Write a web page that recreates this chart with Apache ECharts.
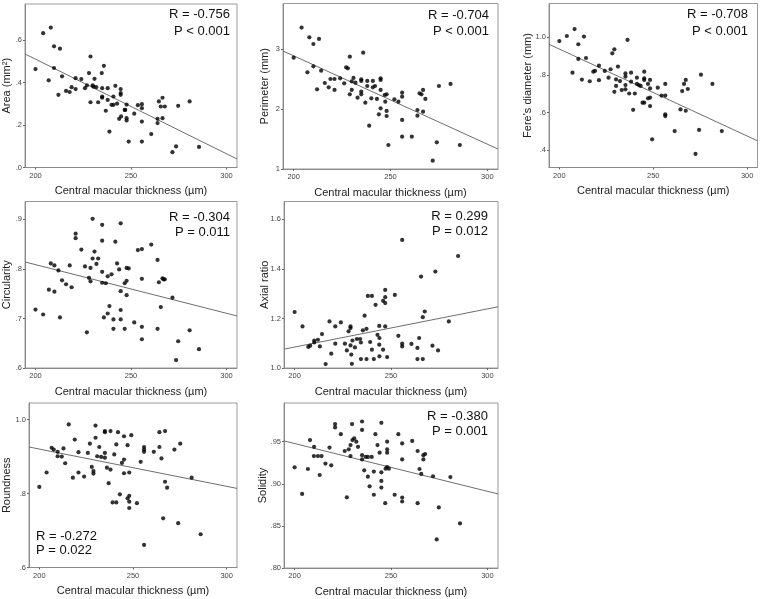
<!DOCTYPE html>
<html><head><meta charset="utf-8">
<script src="https://cdn.jsdelivr.net/npm/echarts@6/dist/echarts.min.js"></script>
<style>html,body{margin:0;padding:0;background:#fff}#c{width:760px;height:599px}</style>
</head><body><div id="c"></div>
<script>
// ---------- data ----------
const xTicks = [200, 250, 300];
const xRange = [194.5, 305.5];
const xTitle = 'Central macular thickness (µm)';

const areaPts = [[204,0.632],[208,0.658],[209.7,0.57],[212.8,0.559],[200,0.463],[209.7,0.468],[206.9,0.41],[212,0.342],[213.9,0.429],[216,0.36],[217.9,0.355],[218.9,0.378],[221,0.42],[221,0.369],[224,0.416],[225.9,0.373],[226.9,0.386],[228,0.444],[228.8,0.522],[228.8,0.307],[229.9,0.386],[230.4,0.38],[230.9,0.417],[231.8,0.378],[232.8,0.307],[234.7,0.444],[234.9,0.373],[234.9,0.334],[234.9,0.328],[235.8,0.478],[236.8,0.267],[237.8,0.373],[237.8,0.318],[238.7,0.169],[239.8,0.295],[240.8,0.334],[240.8,0.295],[241.8,0.384],[242.7,0.3],[243.8,0.229],[244.6,0.369],[244.6,0.35],[244.6,0.342],[244.8,0.24],[246.7,0.271],[247,0.271],[247.7,0.296],[247.7,0.232],[247.7,0.221],[248.8,0.122],[251.7,0.253],[253.6,0.293],[255.7,0.298],[255.7,0.279],[255.7,0.216],[255.7,0.122],[260.6,0.157],[263.9,0.229],[263.9,0.209],[264.6,0.311],[265.6,0.287],[266.5,0.328],[266.5,0.232],[267.7,0.287],[271.7,0.072],[273.6,0.099],[274.7,0.29],[280.7,0.311],[285.6,0.097]];
const areaFit = [[194.5,0.534],[305.5,0.040]];
const areaTicks = [0, 0.2, 0.4, 0.6];

const perimPts = [[204.1,3.356],[208.1,3.194],[210.2,3.083],[213.1,3.167],[200,2.856],[210.2,2.711],[207.1,2.611],[212.1,2.328],[214.2,2.639],[216.1,2.433],[218.1,2.361],[219,2.5],[221.1,2.5],[221.1,2.317],[224,2.511],[226.1,2.428],[227.1,2.694],[228,2.678],[229,2.872],[229,2.244],[230,2.461],[230,2.317],[230.9,2.517],[231.9,2.439],[233,2.189],[234.9,2.494],[234.9,2.467],[234.9,2.289],[234.9,2.244],[235.9,2.939],[237,2.106],[238,2.467],[238,2.383],[239,1.722],[240.1,2.178],[240.9,2.467],[240.9,2.361],[242,2.383],[243,2.167],[244,1.911],[244.9,2.511],[244.9,2.483],[244.9,2.317],[244.9,2.011],[247,2.233],[247.3,2.122],[248,2.244],[248,1.967],[248,1.883],[248.9,1.4],[252,2.161],[254.1,2.122],[256,2.272],[256,2.206],[256,1.817],[256,1.539],[261,1.539],[263.9,1.983],[263.9,1.889],[265,2.261],[266,2.244],[266.8,2.317],[266.8,1.956],[268,2.167],[271.8,1.139],[273.9,1.444],[275,2.383],[281,2.417],[285.8,1.4]];
const perimFit = [[194.5,2.967],[305.5,1.333]];
const perimTicks = [1, 2, 3];

const feretPts = [[204,1.007],[208.1,1.044],[200,0.98],[213.1,1.004],[210.1,0.963],[210.1,0.885],[214.2,0.89],[207,0.812],[212,0.775],[216.2,0.766],[218.1,0.817],[219,0.821],[221.1,0.849],[221.1,0.772],[224.2,0.821],[226.2,0.785],[227.3,0.83],[228.2,0.915],[229.3,0.936],[229.3,0.71],[230.2,0.741],[230.2,0.776],[231.2,0.844],[232.3,0.767],[233.2,0.719],[235.2,0.808],[235.2,0.791],[235.2,0.746],[235.2,0.723],[236.3,0.986],[237.2,0.701],[238.2,0.812],[238.2,0.764],[239.3,0.614],[240.2,0.701],[241.3,0.785],[241.3,0.752],[242.3,0.746],[243.3,0.741],[244.3,0.652],[245.2,0.817],[245.2,0.781],[245.2,0.773],[245.2,0.652],[247.2,0.752],[247.2,0.675],[248.3,0.773],[248.3,0.728],[248.3,0.679],[248.3,0.634],[249.4,0.457],[252.4,0.732],[254.4,0.69],[256.4,0.752],[256.4,0.69],[256.4,0.59],[256.4,0.581],[261.4,0.501],[264.5,0.616],[265.4,0.714],[266.4,0.752],[267.3,0.773],[267.3,0.609],[268.4,0.725],[272.5,0.379],[274.4,0.507],[275.4,0.801],[281.5,0.752],[286.5,0.501]];
const feretFit = [[194.5,0.963],[305.5,0.449]];
const feretTicks = [0.4, 0.6, 0.8, 1.0];

const circPts = [[200,0.718],[204,0.708],[207,0.758],[208,0.811],[209.9,0.807],[209.9,0.754],[212,0.797],[212.8,0.702],[213.9,0.777],[216,0.769],[217.9,0.807],[218.9,0.763],[221,0.871],[221,0.862],[224,0.839],[225.9,0.805],[226.9,0.672],[228,0.782],[228.8,0.802],[228.8,0.775],[229.9,0.901],[229.9,0.821],[230.9,0.835],[231.9,0.81],[232.8,0.821],[234.9,0.889],[234.9,0.857],[234.9,0.794],[234.9,0.772],[235.8,0.702],[236.8,0.771],[237.8,0.785],[237.8,0.71],[238.7,0.725],[239.8,0.789],[240.8,0.698],[240.8,0.679],[241.8,0.855],[242.7,0.811],[243.8,0.799],[244.6,0.892],[244.6,0.755],[244.6,0.717],[244.6,0.698],[246.7,0.771],[246.7,0.679],[247.7,0.802],[247.7,0.776],[247.7,0.747],[248.8,0.801],[251.7,0.692],[253.6,0.838],[255.7,0.84],[255.7,0.78],[255.7,0.683],[255.7,0.658],[260.6,0.849],[263.9,0.818],[263.9,0.679],[264.6,0.773],[265.6,0.723],[266.5,0.781],[267,0.779],[267.7,0.779],[271.7,0.742],[273.6,0.616],[274.7,0.654],[280.7,0.676],[285.6,0.638]];
const circFit = [[194.5,0.814],[305.5,0.705]];
const circTicks = [0.6, 0.7, 0.8, 0.9];

const axialPts = [[200,1.226],[204.1,1.168],[207.1,1.085],[208.1,1.09],[210.2,1.103],[210.2,1.111],[212.1,1.114],[213.1,1.087],[214.2,1.137],[216.1,1.016],[218.1,1.188],[219,1.058],[221.1,1.168],[221.1,1.098],[224,1.184],[226.1,1.098],[227.1,1.071],[228,1.148],[229,1.168],[229,1.161],[229,1.091],[229.4,1.054],[229.7,1.017],[230,1.111],[231.3,1.083],[232.3,1.117],[234,1.117],[234.4,1.036],[234.4,1.103],[235.4,1.152],[236.3,1.211],[237.3,1.158],[237.3,1.036],[238,1.291],[239.2,1.105],[240.1,1.291],[240.1,1.074],[241.1,1.036],[242,1.255],[243,1.134],[243.9,1.17],[244,1.121],[243.9,1.094],[244,1.047],[245.9,1.271],[245.9,1.074],[247,1.315],[247,1.286],[247,1.262],[247,1.168],[248,1.044],[252,1.295],[253.8,1.13],[255.8,1.517],[255.8,1.098],[255.8,1.087],[260.6,1.097],[263.7,1.081],[263.7,1.036],[264.6,1.121],[265.6,1.369],[266.5,1.205],[266.5,1.036],[267.5,1.228],[271.5,1.09],[273,1.389],[274.4,1.071],[280,1.188],[284.8,1.452]];
const axialFit = [[194.5,1.076],[305.5,1.247]];
const axialTicks = [1.0, 1.2, 1.4, 1.6];

const roundPts = [[200,0.818],[203.9,0.857],[206.6,0.924],[207.7,0.919],[209.8,0.913],[209.8,0.901],[212,0.9],[212.9,0.922],[213.8,0.882],[215.7,0.987],[217.9,0.843],[218.9,0.946],[220.9,0.912],[220.9,0.857],[223.9,0.846],[225.9,0.91],[227,0.935],[228,0.872],[228.9,0.861],[228.9,0.854],[230,0.984],[230,0.951],[230.9,0.901],[232,0.926],[233,0.899],[235,0.969],[235,0.966],[235,0.91],[235,0.897],[236.1,0.87],[237,0.828],[238,0.969],[238,0.865],[239.1,0.776],[240,0.906],[241.1,0.933],[241.1,0.776],[242,0.966],[243,0.798],[244.1,0.883],[245.2,0.955],[245.2,0.892],[245.2,0.855],[247.1,0.931],[247.1,0.787],[248,0.857],[248,0.794],[248,0.778],[248,0.761],[249.1,0.958],[252.1,0.774],[254.1,0.886],[255.9,0.926],[255.9,0.919],[255.9,0.913],[255.9,0.661],[261.1,0.913],[264.1,0.966],[264.1,0.926],[265.2,0.895],[266.1,0.733],[267.1,0.969],[267.1,0.832],[268.2,0.816],[272.1,0.919],[274.1,0.72],[275.2,0.935],[281.3,0.843],[286.1,0.69]];
const roundFit = [[194.5,0.926],[305.5,0.814]];
const roundTicks = [0.6, 0.8, 1.0];

const solidPts = [[200,0.9196],[203.9,0.888],[206.9,0.9176],[208,0.952],[210.1,0.944],[210,0.933],[212.1,0.933],[213,0.9105],[214,0.933],[216,0.924],[218.1,0.943],[219,0.922],[221,0.971],[221,0.967],[224,0.959],[226,0.939],[227.1,0.884],[228.1,0.941],[229,0.946],[229,0.933],[229.8,0.971],[230,0.952],[230.9,0.954],[232,0.95],[232.9,0.944],[235,0.974],[235,0.964],[235,0.934],[235,0.929],[236.1,0.916],[236.9,0.932],[238,0.932],[238,0.9085],[238.9,0.897],[240,0.932],[241.1,0.9145],[241.1,0.887],[241.9,0.959],[243,0.946],[244.1,0.937],[245,0.9725],[245,0.9137],[245,0.9034],[245,0.8955],[247,0.877],[247.2,0.918],[248,0.95],[248,0.941],[248,0.937],[248,0.92],[248.9,0.918],[251.9,0.887],[253.8,0.959],[255.8,0.948],[255.8,0.929],[255.8,0.8837],[255.8,0.879],[261,0.951],[263.8,0.939],[263.8,0.877],[264.8,0.9176],[265.7,0.9117],[266.8,0.934],[266.8,0.929],[267.7,0.9354],[271.8,0.909],[273.7,0.834],[274.8,0.872],[280.8,0.908],[285.8,0.853]];
const solidFit = [[194.5,0.951],[305.5,0.888]];
const solidTicks = [0.80, 0.85, 0.90, 0.95];

const yTitles = ['Area (mm²)', 'Perimeter (mm)', 'Fere\'s diameter (mm)', 'Circularity', 'Axial ratio', 'Roundness', 'Solidity'];
const rTexts = ['R = -0.756', 'R = -0.704', 'R = -0.708', 'R = -0.304', 'R = 0.299', 'R = -0.272', 'R = -0.380'];
const pTexts = ['P < 0.001', 'P < 0.001', 'P < 0.001', 'P = 0.011', 'P = 0.012', 'P = 0.022', 'P = 0.001'];

// ---------- layout ----------
const panels = [
  {pts: areaPts, fit: areaFit, ticks: areaTicks, yr: [0, 0.769], dec: 1, g: {left: 25, top: 4, width: 212, height: 163.5}, ytx: 7, ann: {x: 230, y1: 14.5, y2: 31, align: 'right'}},
  {pts: perimPts, fit: perimFit, ticks: perimTicks, yr: [1, 3.758], dec: 0, g: {left: 283, top: 3.5, width: 215, height: 165.5}, ytx: 265, ann: {x: 489, y1: 15, y2: 31.5, align: 'right'}},
  {pts: feretPts, fit: feretFit, ticks: feretTicks, yr: [0.307, 1.18], dec: 1, g: {left: 549, top: 3.5, width: 208.5, height: 164}, ytx: 528, ann: {x: 748, y1: 14.5, y2: 31, align: 'right'}},
  {pts: circPts, fit: circFit, ticks: circTicks, yr: [0.6, 0.936], dec: 1, g: {left: 25, top: 201.5, width: 212, height: 166.5}, ytx: 7, ann: {x: 230, y1: 217, y2: 232, align: 'right'}},
  {pts: axialPts, fit: axialFit, ticks: axialTicks, yr: [1.0, 1.672], dec: 1, g: {left: 284, top: 201.5, width: 214, height: 166.5}, ytx: 265, ann: {x: 488, y1: 216, y2: 231, align: 'right'}},
  {pts: roundPts, fit: roundFit, ticks: roundTicks, yr: [0.6, 1.045], dec: 1, g: {left: 29, top: 403, width: 208, height: 164.5}, ytx: 7, ann: {x: 36, y1: 536.5, y2: 550.5, align: 'left'}},
  {pts: solidPts, fit: solidFit, ticks: solidTicks, yr: [0.80, 0.996], dec: 2, g: {left: 284, top: 403, width: 214, height: 165}, ytx: 262.5, ann: {x: 488, y1: 416, y2: 431.5, align: 'right'}}
];

const FONT = '"Liberation Sans", Arial, sans-serif';
const grids = [], xAxes = [], yAxes = [], series = [], graphics = [];
panels.forEach((p, i) => {
  grids.push(Object.assign({show: true, borderColor: '#9a9a9a', borderWidth: 1, backgroundColor: '#fff', outerBoundsMode: 'none', containLabel: false}, p.g));
  xAxes.push({
    type: 'value', gridIndex: i, min: xRange[0], max: xRange[1],
    axisLine: {show: true, onZero: false, lineStyle: {color: '#8a8a8a', width: 1}},
    axisTick: {show: true, length: 2, customValues: xTicks, lineStyle: {color: '#666'}},
    axisLabel: {customValues: xTicks, fontSize: 7.5, color: '#444', margin: 4, fontFamily: FONT},
    splitLine: {show: false}
  });
  const dec = p.dec;
  yAxes.push({
    type: 'value', gridIndex: i, min: p.yr[0], max: p.yr[1],
    axisLine: {show: true, onZero: false, lineStyle: {color: '#8a8a8a', width: 1}},
    axisTick: {show: true, length: 2, customValues: p.ticks, lineStyle: {color: '#666'}},
    axisLabel: {customValues: p.ticks, fontSize: 7.5, color: '#444', margin: 3, fontFamily: FONT,
      formatter: v => { let s = Number(v).toFixed(dec); if (s.startsWith('0.')) s = s.slice(1); return s; }},
    splitLine: {show: false}
  });
  series.push({type: 'scatter', xAxisIndex: i, yAxisIndex: i, data: p.pts, symbol: 'circle', symbolSize: 4.2,
    itemStyle: {color: '#000'}, silent: true, z: 3});
  series.push({type: 'line', xAxisIndex: i, yAxisIndex: i, data: p.fit, showSymbol: false, symbol: 'none',
    lineStyle: {color: '#6e6e6e', width: 1}, silent: true, z: 2});
  const g = p.g;
  graphics.push({type: 'text', x: g.left + g.width / 2, y: g.top + g.height + 23.5,
    style: {text: xTitle, font: '11px ' + FONT, fill: '#222', textAlign: 'center', textVerticalAlign: 'middle'}});
  graphics.push({type: 'text', x: p.ytx, y: g.top + g.height / 2, rotation: Math.PI / 2,
    style: {text: yTitles[i], font: '11px ' + FONT, fill: '#222', textAlign: 'center', textVerticalAlign: 'middle'}});
  graphics.push({type: 'text', x: p.ann.x, y: p.ann.y1,
    style: {text: rTexts[i], font: '13px ' + FONT, fill: '#111', textAlign: p.ann.align, textVerticalAlign: 'middle'}, z: 10});
  graphics.push({type: 'text', x: p.ann.x, y: p.ann.y2,
    style: {text: pTexts[i], font: '13px ' + FONT, fill: '#111', textAlign: p.ann.align, textVerticalAlign: 'middle'}, z: 10});
});

const chart = echarts.init(document.getElementById('c'), null, {renderer: 'canvas'});
chart.setOption({
  animation: false,
  backgroundColor: '#fff',
  grid: grids, xAxis: xAxes, yAxis: yAxes, series: series,
  graphic: {elements: graphics}
});
</script>
</body></html>
